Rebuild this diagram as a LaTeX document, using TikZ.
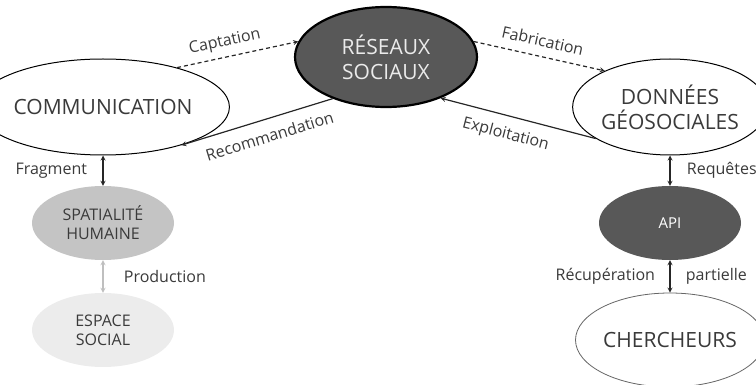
\documentclass[tikz,border=0pt]{standalone}
\usepackage{fontspec}
\setmainfont{Open Sans}
\usepackage{tikz}
\usetikzlibrary{shapes.geometric, arrows}
\definecolor{darkfill}{RGB}{88,88,88}
\definecolor{midfill}{RGB}{196,196,196}
\definecolor{lightfill}{RGB}{236,236,236}
\definecolor{txt}{RGB}{58,58,58}
\tikzstyle{bignode} = [ellipse, inner sep=0pt, align=center, text=txt, font=\fontsize{21}{25}\selectfont]
\tikzstyle{reseau} = [bignode, minimum width=182pt, minimum height=100pt, draw=black, line width=2.2pt, fill=darkfill, text=white!92!black]
\tikzstyle{actor} = [bignode, minimum width=178pt, minimum height=96pt, draw=black, line width=1pt, fill=white]
\tikzstyle{smallnode} = [ellipse, inner sep=0pt, align=center, minimum width=142pt, minimum height=74pt, text=txt, font=\fontsize{16}{19}\selectfont]
\tikzstyle{spatial} = [smallnode, fill=midfill]
\tikzstyle{espace} = [smallnode, fill=lightfill]
\tikzstyle{api} = [smallnode, fill=darkfill, text=white, font=\fontsize{15}{18}\selectfont]
\tikzstyle{arrow} = [line width=1.2pt, ->, >=stealth, black!85]
\tikzstyle{dasharrow} = [arrow, dash pattern=on 4pt off 3pt]
\tikzstyle{dblarrow} = [line width=1.2pt, <->, >=stealth, black!85]
\tikzstyle{lbl} = [text=txt, font=\fontsize{16}{19}\selectfont]

\begin{document}
\begin{tikzpicture}[x=1pt, y=-1pt, node distance=116pt]
        \useasboundingbox (0,0) rectangle (756,385);
        \node (res) [reseau] at (386,57) {RÉSEAUX\\SOCIAUX};
        \node (comm) [actor] at (103,107) {COMMUNICATION};
        \node (don) [actor] at (670,107) {DONNÉES\\GÉOSOCIALES};
        \node (spat) [spatial, below of=comm] {SPATIALITÉ\\HUMAINE};
        \node (esp) [espace, below of=spat, yshift=9pt] {ESPACE\\SOCIAL};
        \node (api) [api, below of=don] {API};
        \node (cher) [actor, below of=api, yshift=-1pt, draw=black!60, line width=0.8pt, minimum height=94pt] {CHERCHEURS};
        \draw [dasharrow] (comm.28) -- (res.170) node[lbl, pos=0.42, above=3pt, sloped] {Captation};
        \draw [arrow] (res.218) -- (comm.334) node[lbl, pos=0.45, below=7pt, sloped] {Recommandation};
        \draw [dasharrow] (res.10) -- (don.151) node[lbl, midway, above=6pt, sloped] {Fabrication};
        \draw [arrow] (don.203) -- (res.323) node[lbl, pos=0.55, below=7pt, sloped] {Exploitation};
        \draw [dblarrow] (comm) -- (spat) node[lbl, midway, left, xshift=-12pt] {Fragment};
        \draw [dblarrow, black!25] (spat) -- (esp) node[lbl, midway, right, xshift=17pt] {Production};
        \draw [dblarrow] (don) -- (api) node[lbl, midway, right, xshift=13pt] {Requêtes};
        \draw [dblarrow] (api) -- (cher) node[lbl, midway, left, xshift=-11pt] {Récupération} node[lbl, midway, right, xshift=12pt] {partielle};
      \end{tikzpicture}
\end{document}
